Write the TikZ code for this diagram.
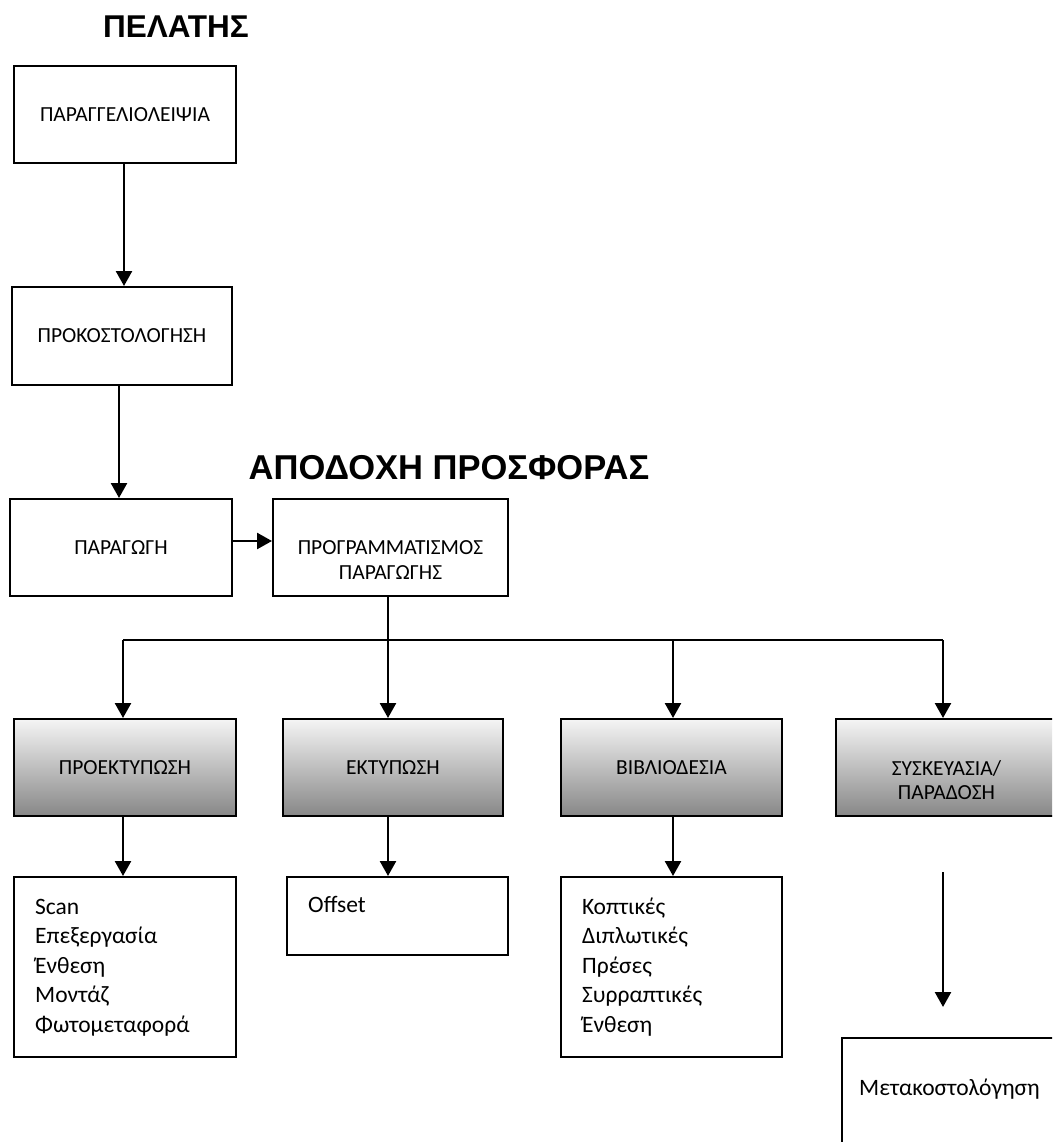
\documentclass[tikz,border=0pt]{standalone}
\usepackage{fontspec}
\setmainfont{Carlito}
\newfontfamily\titlefont{Liberation Sans}
\usetikzlibrary{arrows.meta}
\begin{document}
\begin{tikzpicture}[x=1pt,y=-1pt,
  box/.style={draw, line width=2pt, inner sep=0pt, align=center, font=\fontsize{21.5}{25}\selectfont},
  gbox/.style={box, top color=black!4, bottom color=black!47},
  lbl/.style={inner sep=0pt, align=center, font=\fontsize{21.5}{24.5}\selectfont},
  lst/.style={anchor=base west, inner sep=0pt, align=left, font=\fontsize{23.5}{29.5}\selectfont},
  arr/.style={line width=2.5pt, -{Triangle[length=15pt,width=16pt]}},
  ln/.style={line width=1.7pt},
  ttl/.style={inner sep=0pt, font=\titlefont\bfseries\fontsize{31.5}{36}\selectfont}]
\useasboundingbox (0,0) rectangle (1052,1142);
\begin{scope}
\clip (0,0) rectangle (1052,1142);

% titles
\node[ttl] (t1) at (176,26.5) {ΠΕΛΑΤΗΣ};
\node[ttl, font=\titlefont\bfseries\fontsize{34.5}{40}\selectfont] (t2) at (449,468) {ΑΠΟΔΟΧΗ ΠΡΟΣΦΟΡΑΣ};

% upper chain
\node[box, minimum width=222pt, minimum height=97pt] (a1) at (125,114.5) {ΠΑΡΑΓΓΕΛΙΟΛΕΙΨΙΑ};
\node[box, minimum width=220pt, minimum height=98pt] (a2) at (122,336) {ΠΡΟΚΟΣΤΟΛΟΓΗΣΗ};
\node[box, minimum width=222pt, minimum height=97pt] (a3) at (121,547.5) {ΠΑΡΑΓΩΓΗ};
\node[box, minimum width=235pt, minimum height=97pt] (p) at (390.5,547.5) {};
\node[lbl] (pl) at (390.5,560) {ΠΡΟΓΡΑΜΜΑΤΙΣΜΟΣ\\ΠΑΡΑΓΩΓΗΣ};

% gradient boxes
\node[gbox, minimum width=222pt, minimum height=97pt] (g1) at (125,767.5) {ΠΡΟΕΚΤΥΠΩΣΗ};
\node[gbox, minimum width=220pt, minimum height=97pt] (g2) at (393,767.5) {ΕΚΤΥΠΩΣΗ};
\node[gbox, minimum width=221pt, minimum height=97pt] (g3) at (671.5,767.5) {ΒΙΒΛΙΟΔΕΣΙΑ};
\node[gbox, minimum width=221pt, minimum height=97pt] (g4) at (946.5,767.5) {};
\node[lbl] (g4l) at (946.5,780) {ΣΥΣΚΕΥΑΣΙΑ/\\ΠΑΡΑΔΟΣΗ};

% white boxes
\node[box, minimum width=222pt, minimum height=180pt] (w1) at (125,967) {};
\node[lst] (w1t) at (35,1032) {Scan\\Επεξεργασία\\Ένθεση\\Μοντάζ\\Φωτομεταφορά};
\node[box, minimum width=221pt, minimum height=78pt] (w2) at (397.5,916) {};
\node[lst] (w2t) at (308,912.5) {Offset};
\node[box, minimum width=221pt, minimum height=180pt] (w3) at (671.5,967) {};
\node[lst] (w3t) at (582,1032) {Κοπτικές\\Διπλωτικές\\Πρέσες\\Συρραπτικές\\Ένθεση};
\node[box, minimum width=221pt, minimum height=122pt] (w4) at (952.5,1099) {};
\node[lst] (w4t) at (859,1095) {Μετακοστολόγηση};

% connectors
\coordinate (c1) at (124,0);
\coordinate (c2) at (119,0);
\draw[arr] (a1.south -| c1) -- (a2.north -| c1);
\draw[arr] (a2.south -| c2) -- (a3.north -| c2);
\coordinate (h) at (0,541);
\draw[arr] (a3.east |- h) -- (p.west |- h);

\coordinate (b1) at (123,640);
\coordinate (b2) at (388,640);
\coordinate (b3) at (673,640);
\coordinate (b4) at (943,640);
\draw[ln] (p.south -| b2) -- (b2);
\draw[ln] (b1) -- (b4);
\draw[arr] (b1) -- (b1 |- g1.north);
\draw[arr] (b2) -- (b2 |- g2.north);
\draw[arr] (b3) -- (b3 |- g3.north);
\draw[arr] (b4) -- (b4 |- g4.north);

\draw[arr] (g1.south -| b1) -- (w1.north -| b1);
\draw[arr] (g2.south -| b2) -- (w2.north -| b2);
\draw[arr] (g3.south -| b3) -- (w3.north -| b3);

\coordinate (r1) at (943,872);
\coordinate (r2) at (943,1007);
\draw[arr] (r1) -- (r2);
\end{scope}
\end{tikzpicture}
\end{document}
